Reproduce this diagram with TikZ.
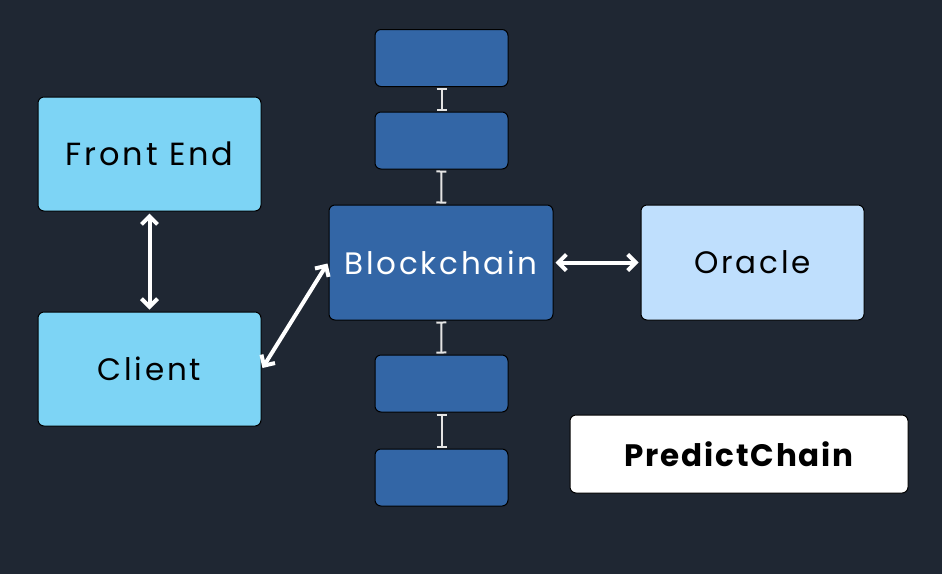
\documentclass[tikz,border=0pt]{standalone}
\usepackage{fontspec}
\setmainfont{Poppins}[LetterSpace=9]
\newfontfamily\pcfont{Poppins}[LetterSpace=6]
\usetikzlibrary{arrows.meta}
\definecolor{bg}{HTML}{1F2733}
\definecolor{cyanbox}{HTML}{7DD4F5}
\definecolor{bluebox}{HTML}{3366A6}
\definecolor{oraclebox}{HTML}{BFDFFD}
\definecolor{barcol}{HTML}{E4E4E4}
\tikzset{
  box/.style={draw=black, line width=1pt, rounded corners=6pt, inner sep=0pt, font=\fontsize{31}{36}\selectfont},
  cbox/.style={box, fill=cyanbox, minimum width=223pt, minimum height=114pt, text=black},
  bbox/.style={box, fill=bluebox, minimum width=224pt, minimum height=115pt, text=white},
  obox/.style={box, fill=oraclebox, minimum width=223pt, minimum height=115pt, text=black},
  sbox/.style={box, fill=bluebox, minimum width=133pt, minimum height=57pt},
  pbox/.style={box, fill=white, minimum width=338pt, minimum height=78pt, text=black},
  link/.style={draw=barcol, line width=2pt, {Bar[width=10pt,line width=2pt]}-{Bar[width=10pt,line width=2pt]}, shorten <=1pt, shorten >=1pt},
  dbl/.style={draw=white, line width=4pt, {Straight Barb[length=8pt,width=16pt,line width=4pt]}-{Straight Barb[length=8pt,width=16pt,line width=4pt]}}
}
\begin{document}
\begin{tikzpicture}[x=1pt,y=-1pt]
\fill[bg] (0,0) rectangle (942,574);
\useasboundingbox (0,0) rectangle (942,574);
\node[cbox, font=\fontsize{32}{36}\selectfont] (fe) at (149.5,154) {Front End};
\node[cbox] (cl) at (149.5,369) {Client};
\node[bbox] (bc) at (441,262.5) {Blockchain};
\node[obox] (or) at (752.5,262.5) {Oracle};
\node[sbox] (t1) at (441.5,58) {};
\node[sbox] (t2) at (441.5,140.5) {};
\node[sbox] (b1) at (441.5,383.5) {};
\node[sbox] (b2) at (441.5,477.5) {};
\node[pbox, font=\fontsize{31}{36}\pcfont\bfseries] (pc) at (739,454) {PredictChain};
\draw[link] (t1) -- (t2);
\draw[link] (t2) -- (bc);
\draw[link] (bc) -- (b1);
\draw[link] (b1) -- (b2);
\draw[dbl, shorten <=2pt, shorten >=2pt] (fe) -- (cl);
\path (cl.east) ++(1,-1) coordinate (c1) (bc.west) ++(-1,1) coordinate (c2);
\draw[dbl] (c1) -- (c2);
\draw[dbl, shorten <=2pt, shorten >=2pt] (bc) -- (or);
\end{tikzpicture}
\end{document}
